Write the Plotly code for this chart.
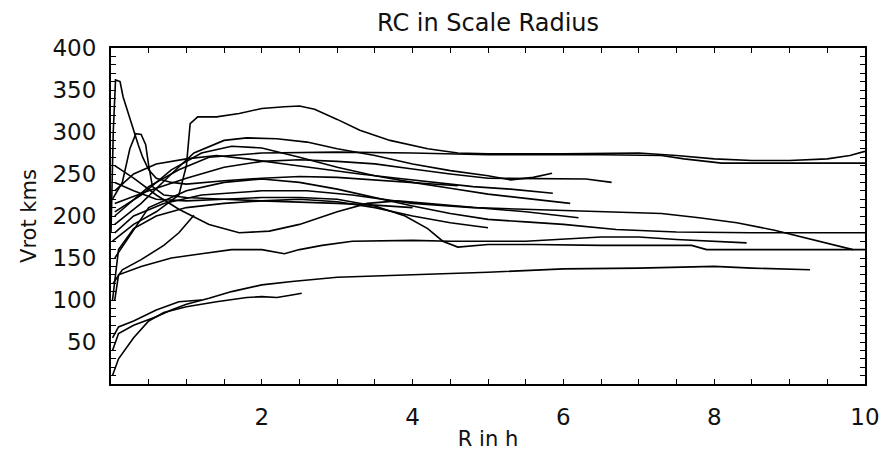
import plotly.graph_objects as go

# ---- data: rotation curves (R in scale radii h, Vrot in km/s) ----
c1_x = [0.02, 0.3, 0.6, 0.9, 1.0, 1.05, 1.15, 1.4, 1.7, 2.0, 2.3, 2.5, 2.7, 3.0, 3.3, 3.7, 4.2, 4.6, 5.0, 6.0, 7.0, 7.5, 8.0, 8.5, 9.0, 9.5, 9.8, 10.0]
c1_y = [170, 190, 205, 225, 260, 310, 318, 318, 322, 328, 330, 331, 327, 315, 302, 290, 280, 275, 274, 274, 275, 272, 268, 266, 266, 268, 272, 277]

c2_x = [0.05, 0.5, 0.9, 1.3, 2.0, 3.0, 4.0, 5.0, 6.5, 7.3, 7.6, 8.1, 9.0, 10.0]
c2_y = [200, 235, 255, 270, 275, 276, 275, 273, 273, 272, 268, 263, 263, 263]

c3_x = [0.05, 0.4, 0.8, 1.1, 1.5, 1.8, 2.2, 2.6, 3.0, 3.5, 4.0, 4.5, 5.0, 5.3, 5.6, 5.85]
c3_y = [190, 215, 250, 275, 290, 293, 292, 288, 280, 272, 262, 254, 248, 243, 246, 251]

c4_x = [0.05, 0.5, 1.0, 1.5, 2.0, 2.5, 3.0, 3.5, 4.0, 4.5, 5.0, 5.7, 6.3, 6.64]
c4_y = [215, 230, 245, 258, 265, 267, 265, 262, 256, 250, 245, 244, 244, 240]

c5_x = [0.05, 0.3, 0.6, 1.0, 1.4, 1.8, 2.3, 2.8, 3.3, 3.8, 4.3, 4.8, 5.3, 5.86]
c5_y = [230, 250, 262, 268, 272, 268, 262, 256, 250, 245, 240, 235, 232, 227]

c6_x = [0.05, 0.4, 0.8, 1.2, 1.6, 2.0, 2.5, 3.0, 3.5, 4.0, 4.5, 5.0, 5.5, 6.09]
c6_y = [205, 225, 255, 275, 283, 281, 270, 258, 248, 240, 233, 226, 221, 215]

c7_x = [0.05, 0.3, 0.7, 1.2, 2.0, 2.6, 3.2, 4.0, 4.8, 5.5, 6.5, 7.3, 7.8, 8.3, 8.8, 9.3, 9.6, 9.84]
c7_y = [180, 200, 215, 225, 230, 230, 225, 215, 210, 208, 205, 203, 198, 192, 183, 172, 165, 160]

c8_x = [0.05, 0.5, 1.0, 1.5, 2.0, 2.5, 3.0, 3.5, 4.0, 4.5, 5.0, 5.5, 6.0, 6.7, 7.5, 8.5, 10.0]
c8_y = [150, 210, 230, 240, 244, 240, 232, 222, 212, 203, 196, 193, 190, 184, 181, 180, 180]

c9_x = [0.05, 0.3, 0.6, 1.0, 1.5, 2.0, 2.5, 3.0, 3.5, 3.9, 4.2, 4.4, 4.6, 5.0, 5.6, 6.5, 7.7, 7.9, 10.0]
c9_y = [240, 230, 220, 218, 220, 222, 222, 220, 212, 200, 185, 170, 163, 166, 166, 165, 165, 160, 160]

c10_x = [0.05, 0.3, 0.6, 0.9, 1.3, 1.7, 2.1, 2.5, 3.0, 3.4, 3.8, 4.2, 4.8, 5.5, 6.2]
c10_y = [260, 245, 225, 208, 190, 180, 182, 190, 205, 215, 218, 215, 210, 205, 198]

c11_x = [0.05, 0.1, 0.4, 0.8, 1.2, 1.6, 2.0, 2.3, 2.5, 2.8, 3.2, 4.0, 4.5, 5.0, 5.5, 6.5, 7.0, 7.5, 8.0, 8.43]
c11_y = [100, 130, 140, 150, 155, 160, 160, 155, 160, 165, 170, 171, 170, 170, 170, 175, 175, 172, 170, 168]

c12_x = [0.02, 0.1, 0.3, 0.6, 0.8, 1.0, 1.3, 1.6, 2.0, 2.4, 3.0, 4.0, 5.0, 6.0, 7.0, 8.0, 8.5, 9.27]
c12_y = [40, 60, 70, 80, 88, 95, 102, 110, 118, 122, 127, 130, 133, 137, 138, 140, 138, 136]

c13_x = [0.02, 0.1, 0.3, 0.5, 0.7, 1.0, 1.4, 1.8, 2.0, 2.2, 2.4, 2.53]
c13_y = [10, 30, 55, 75, 85, 92, 98, 103, 104, 103, 106, 108]

c14_x = [0.02, 0.1, 0.3, 0.6, 0.9, 1.2]
c14_y = [55, 68, 75, 88, 98, 100]

c15_x = [0.03, 0.15, 0.4, 0.7, 0.9, 1.1]
c15_y = [120, 136, 148, 165, 180, 201]

c16_x = [0.0, 0.03, 0.06, 0.12, 0.16, 0.22, 0.3, 0.36, 0.42, 0.5, 0.6, 0.8, 1.0, 1.5, 2.0, 2.5, 3.0, 3.5, 4.0, 4.6]
c16_y = [180, 300, 362, 360, 342, 325, 300, 285, 270, 255, 245, 240, 238, 242, 245, 247, 246, 243, 240, 236]

c17_x = [0.02, 0.15, 0.25, 0.33, 0.4, 0.46, 0.5, 0.55, 0.7, 1.0, 1.5, 2.0, 3.0, 3.5, 4.0]
c17_y = [220, 240, 280, 298, 297, 285, 260, 235, 225, 222, 220, 218, 215, 213, 210]

c18_x = [0.02, 0.1, 0.3, 0.6, 1.0, 1.5, 2.0, 2.5, 3.0, 3.5, 4.0, 4.5, 5.0]
c18_y = [100, 160, 185, 200, 210, 215, 218, 220, 217, 210, 200, 192, 186]

curves = [
    (c1_x, c1_y), (c2_x, c2_y), (c3_x, c3_y), (c4_x, c4_y), (c5_x, c5_y),
    (c6_x, c6_y), (c7_x, c7_y), (c8_x, c8_y), (c9_x, c9_y), (c10_x, c10_y),
    (c11_x, c11_y), (c12_x, c12_y), (c13_x, c13_y), (c14_x, c14_y),
    (c15_x, c15_y), (c16_x, c16_y), (c17_x, c17_y), (c18_x, c18_y),
]

x_ticks = [2, 4, 6, 8, 10]
y_ticks = [50, 100, 150, 200, 250, 300, 350, 400]

FONT = "DejaVu Sans"
TXT = "#111"

fig = go.Figure()
for cx, cy in curves:
    fig.add_trace(go.Scatter(x=cx, y=cy, mode="lines",
                             line=dict(color="black", width=1.6),
                             showlegend=False, hoverinfo="skip"))

axis_common = dict(
    showline=True, linecolor="black", linewidth=2, mirror="allticks",
    ticks="inside", ticklen=5, tickwidth=1, tickcolor="black",
    showgrid=False, zeroline=False, automargin=False,
    tickfont=dict(family=FONT, size=23, color=TXT),
)

fig.update_xaxes(
    range=[0, 10], tickmode="array", tickvals=x_ticks,
    minor=dict(dtick=0.5, ticks="inside", ticklen=5, tickcolor="black", showgrid=False),
    title=dict(text="R in h", font=dict(family=FONT, size=21, color=TXT), standoff=10),
    ticklabelstandoff=11,
    **axis_common,
)
fig.update_yaxes(
    range=[0, 400], tickmode="array", tickvals=y_ticks,
    minor=dict(dtick=10, ticks="inside", ticklen=5, tickcolor="black", showgrid=False),
    title=dict(text="Vrot kms", font=dict(family=FONT, size=21, color=TXT), standoff=10),
    ticklabelstandoff=8,
    **axis_common,
)

fig.update_layout(
    width=881, height=451,
    margin=dict(l=111, r=16, t=48, b=67),
    paper_bgcolor="white", plot_bgcolor="white",
    title=dict(text="RC in Scale Radius", x=0.5, xref="paper", xanchor="center",
               y=1 - 14 / 451, yref="container", yanchor="top",
               font=dict(family=FONT, size=24, color=TXT)),
)

fig.write_html("out.html")
